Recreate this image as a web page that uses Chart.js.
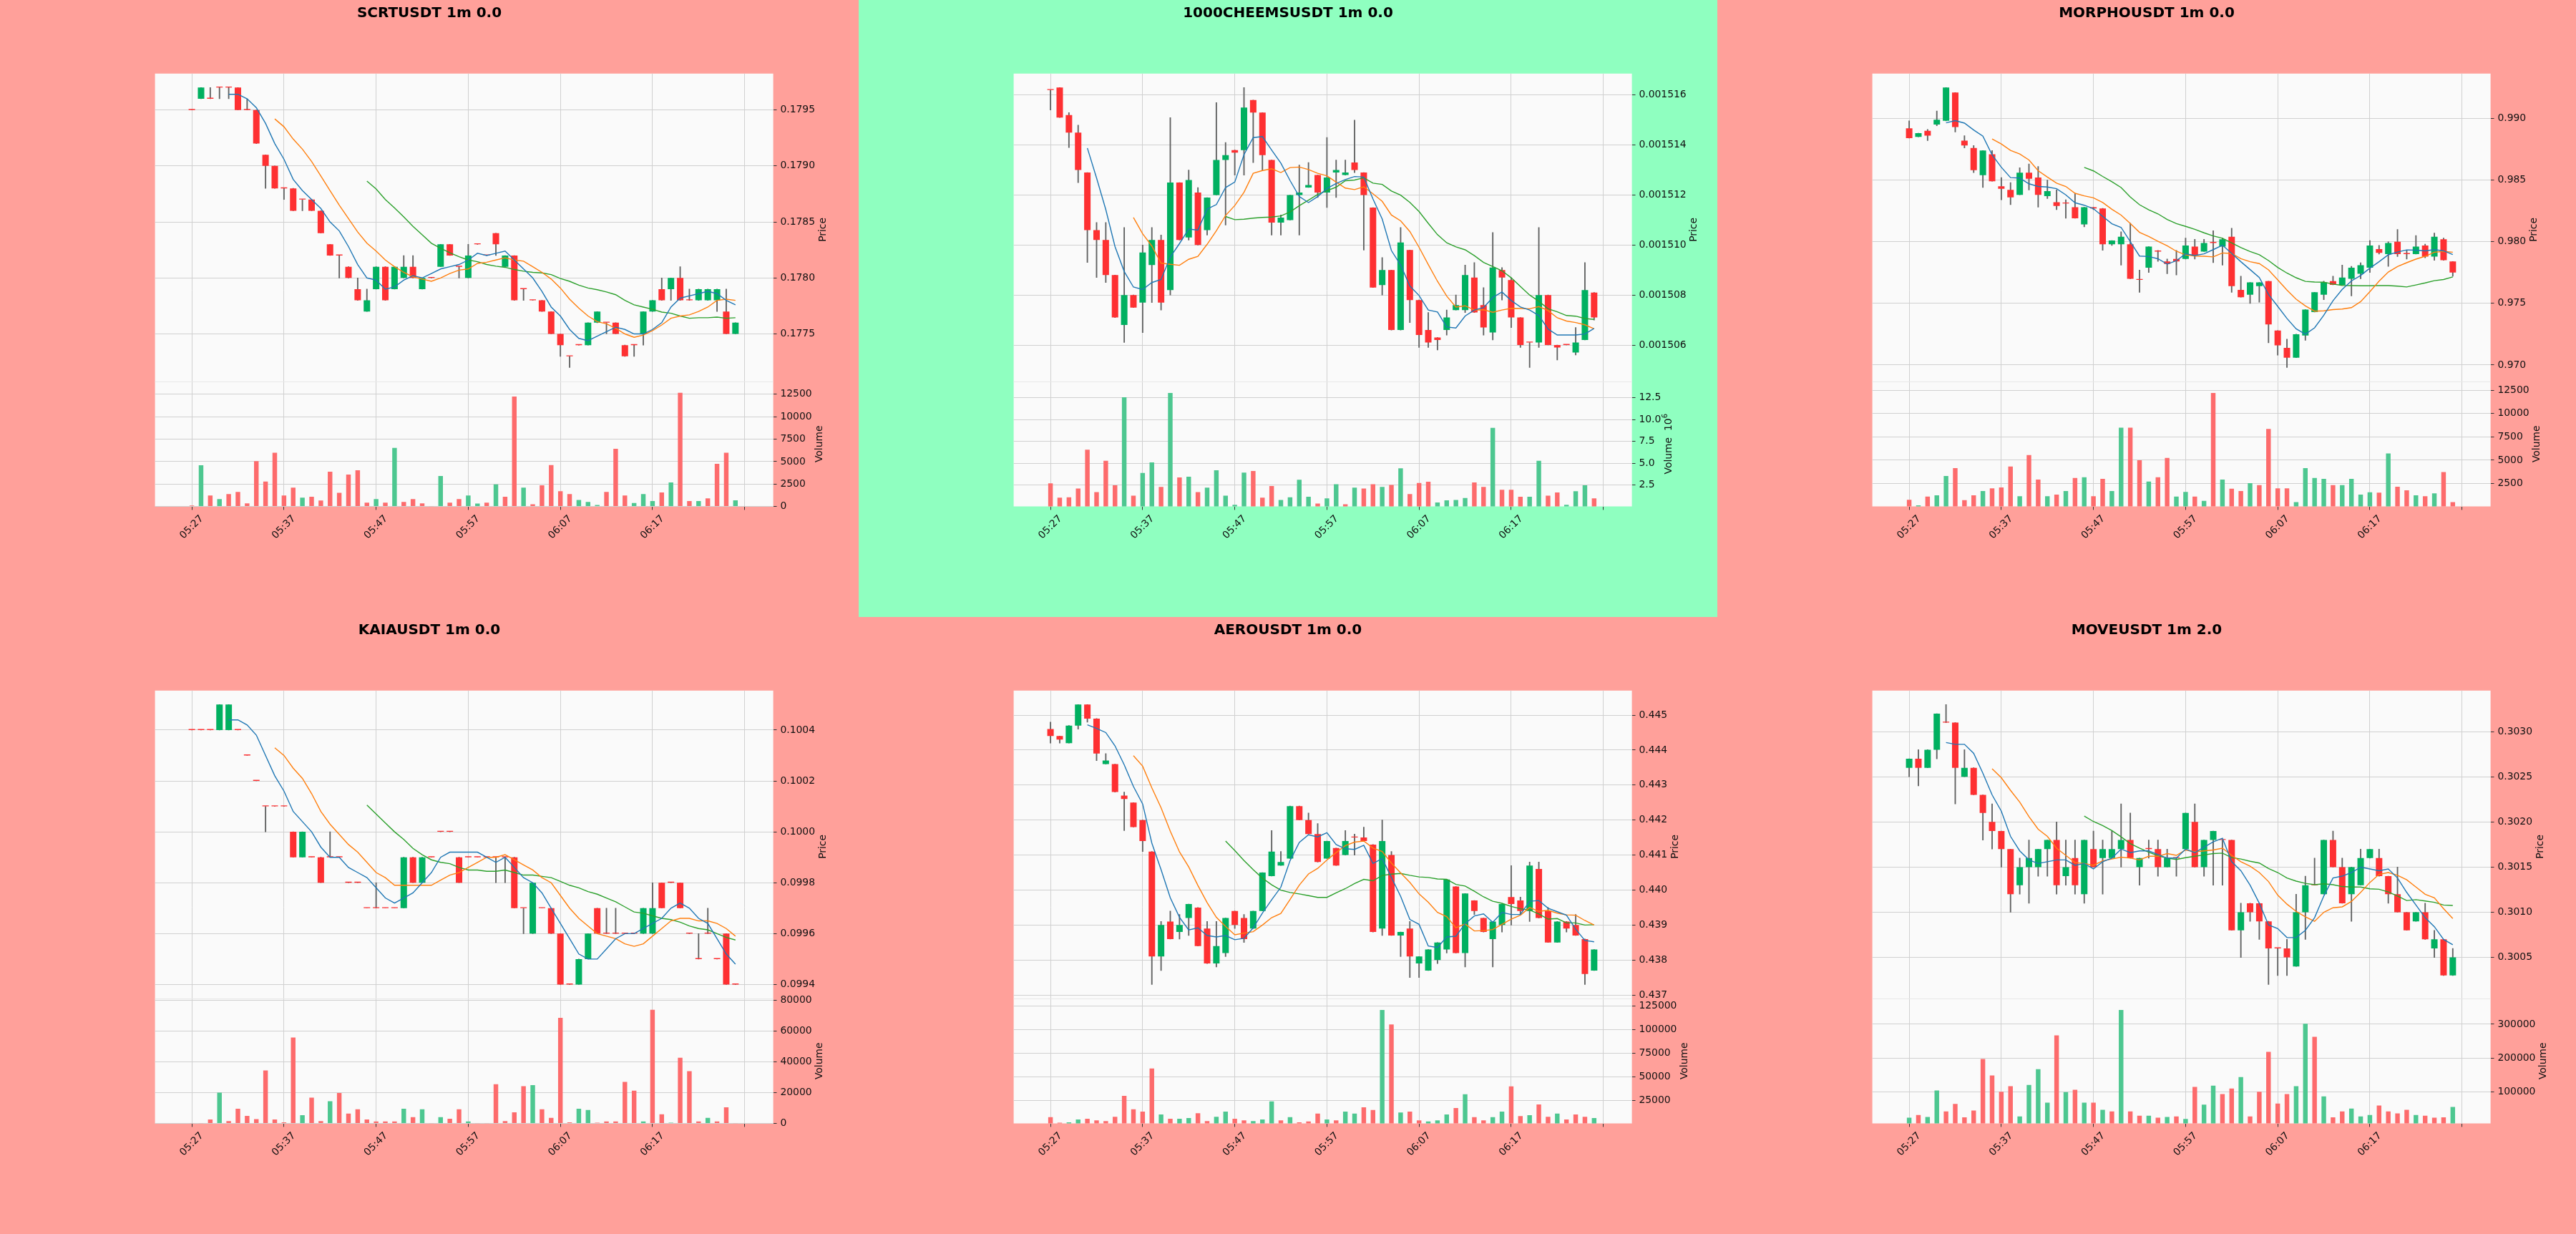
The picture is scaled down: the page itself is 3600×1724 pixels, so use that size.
<!DOCTYPE html>
<html>
<head>
<meta charset="utf-8">
<script src="https://cdn.jsdelivr.net/npm/chart.js@4.4.1/dist/chart.umd.min.js"></script>
<style>
  html, body { margin: 0; padding: 0; background: #ffa09a; }
  #wrap { position: relative; width: 3600px; height: 1724px; overflow: hidden; }
  .panel { position: absolute; width: 1200px; height: 862px; }
  .panel canvas { display: block; width: 1200px; height: 862px; }
</style>
</head>
<body>
<div id="wrap"></div>
<script>
// ---------------- shared x axis (minutes, index based) ----------------
const xTickValues = [0, 10, 20, 30, 40, 50, 60];
const xTickLabels = ['05:27', '05:37', '05:47', '05:57', '06:07', '06:17', ''];

// ---------------- SCRTUSDT ----------------
const scrtOpen  = [0.1795,0.1796,0.1796,0.1797,0.1797,0.1797,0.1795,0.1795,0.1791,0.1790,0.1788,0.1788,0.1787,0.1787,0.1786,0.1783,0.1782,0.1781,0.1779,0.1777,0.1779,0.1781,0.1779,0.1780,0.1781,0.1779,0.1780,0.1781,0.1783,0.1781,0.1780,0.1783,0.1782,0.1784,0.1781,0.1782,0.1779,0.1778,0.1778,0.1777,0.1775,0.1773,0.1774,0.1774,0.1776,0.1776,0.1776,0.1774,0.1774,0.1775,0.1777,0.1779,0.1779,0.1780,0.1778,0.1778,0.1778,0.1778,0.1777,0.1775];
const scrtHigh  = [0.1795,0.1797,0.1797,0.1797,0.1797,0.1797,0.1796,0.1795,0.1791,0.1790,0.1788,0.1788,0.1787,0.1787,0.1786,0.1783,0.1782,0.1781,0.1780,0.1779,0.1781,0.1781,0.1781,0.1782,0.1782,0.1780,0.1780,0.1783,0.1783,0.1781,0.1783,0.1783,0.1782,0.1784,0.1782,0.1782,0.1779,0.1778,0.1778,0.1777,0.1775,0.1773,0.1774,0.1776,0.1777,0.1776,0.1776,0.1774,0.1774,0.1777,0.1778,0.1780,0.1780,0.1781,0.1779,0.1779,0.1779,0.1779,0.1779,0.1776];
const scrtLow   = [0.1795,0.1796,0.1796,0.1796,0.1796,0.1795,0.1795,0.1792,0.1788,0.1788,0.1787,0.1786,0.1786,0.1786,0.1784,0.1782,0.1780,0.1780,0.1778,0.1777,0.1779,0.1778,0.1779,0.1780,0.1780,0.1779,0.1780,0.1781,0.1782,0.1780,0.1780,0.1783,0.1782,0.1782,0.1781,0.1778,0.1778,0.1778,0.1777,0.1775,0.1773,0.1772,0.1774,0.1774,0.1776,0.1775,0.1775,0.1773,0.1773,0.1774,0.1777,0.1778,0.1778,0.1778,0.1778,0.1778,0.1778,0.1777,0.1775,0.1775];
const scrtClose = [0.1795,0.1797,0.1796,0.1797,0.1797,0.1795,0.1795,0.1792,0.1790,0.1788,0.1788,0.1786,0.1787,0.1786,0.1784,0.1782,0.1782,0.1780,0.1778,0.1778,0.1781,0.1778,0.1781,0.1781,0.1780,0.1780,0.1780,0.1783,0.1782,0.1781,0.1782,0.1783,0.1782,0.1783,0.1782,0.1778,0.1779,0.1778,0.1777,0.1775,0.1774,0.1773,0.1774,0.1776,0.1777,0.1776,0.1775,0.1773,0.1774,0.1777,0.1778,0.1778,0.1780,0.1778,0.1778,0.1779,0.1779,0.1779,0.1775,0.1776];
const scrtVolume = [100,4600,1230,830,1390,1630,345,5060,2780,5990,1230,2110,990,1090,670,3880,1520,3560,4040,425,830,425,6520,505,830,345,30,3400,425,830,1230,335,425,2460,1085,12260,2100,250,2370,4620,1700,1390,730,510,160,1615,6430,1220,380,1390,600,1570,2675,12660,600,600,910,4750,6000,690];
const scrtPriceTicks = [0.1775, 0.1780, 0.1785, 0.1790, 0.1795];
const scrtVolumeTicks = [0, 2500, 5000, 7500, 10000, 12500];

// ---------------- 1000CHEEMSUSDT ----------------
const cheemsOpen  = [0.0015162,0.0015163,0.0015152,0.0015145,0.0015129,0.0015106,0.0015102,0.0015088,0.0015068,0.0015080,0.0015077,0.0015092,0.0015102,0.0015082,0.0015125,0.0015103,0.0015121,0.0015106,0.0015120,0.0015134,0.0015138,0.0015138,0.0015158,0.0015153,0.0015134,0.0015109,0.0015110,0.0015120,0.0015123,0.0015128,0.0015121,0.0015129,0.0015128,0.0015133,0.0015129,0.0015115,0.0015084,0.0015090,0.0015066,0.0015098,0.0015078,0.0015066,0.0015063,0.0015066,0.0015074,0.0015074,0.0015087,0.0015076,0.0015065,0.0015090,0.0015086,0.0015071,0.0015061,0.0015061,0.0015080,0.0015060,0.0015060,0.0015057,0.0015062,0.0015081];
const cheemsHigh  = [0.0015162,0.0015163,0.0015153,0.0015148,0.0015129,0.0015109,0.0015109,0.0015088,0.0015107,0.0015080,0.0015100,0.0015107,0.0015104,0.0015151,0.0015125,0.0015130,0.0015123,0.0015119,0.0015157,0.0015141,0.0015138,0.0015163,0.0015158,0.0015153,0.0015134,0.0015112,0.0015120,0.0015132,0.0015133,0.0015128,0.0015143,0.0015134,0.0015134,0.0015150,0.0015129,0.0015115,0.0015095,0.0015090,0.0015107,0.0015098,0.0015078,0.0015073,0.0015063,0.0015074,0.0015080,0.0015092,0.0015093,0.0015083,0.0015105,0.0015091,0.0015087,0.0015071,0.0015061,0.0015107,0.0015080,0.0015060,0.0015060,0.0015067,0.0015093,0.0015081];
const cheemsLow   = [0.0015154,0.0015151,0.0015139,0.0015125,0.0015093,0.0015087,0.0015085,0.0015071,0.0015061,0.0015075,0.0015065,0.0015077,0.0015074,0.0015080,0.0015102,0.0015102,0.0015100,0.0015104,0.0015120,0.0015108,0.0015128,0.0015128,0.0015133,0.0015130,0.0015104,0.0015104,0.0015110,0.0015104,0.0015123,0.0015119,0.0015115,0.0015119,0.0015128,0.0015129,0.0015098,0.0015083,0.0015080,0.0015066,0.0015066,0.0015069,0.0015059,0.0015059,0.0015058,0.0015064,0.0015074,0.0015073,0.0015073,0.0015064,0.0015062,0.0015078,0.0015067,0.0015059,0.0015051,0.0015059,0.0015060,0.0015054,0.0015060,0.0015056,0.0015062,0.0015070];
const cheemsClose = [0.0015162,0.0015151,0.0015145,0.0015130,0.0015106,0.0015102,0.0015088,0.0015071,0.0015080,0.0015075,0.0015097,0.0015102,0.0015077,0.0015125,0.0015102,0.0015126,0.0015100,0.0015119,0.0015134,0.0015136,0.0015137,0.0015155,0.0015153,0.0015136,0.0015109,0.0015111,0.0015120,0.0015121,0.0015124,0.0015121,0.0015127,0.0015130,0.0015129,0.0015130,0.0015120,0.0015083,0.0015090,0.0015066,0.0015101,0.0015078,0.0015064,0.0015061,0.0015062,0.0015071,0.0015076,0.0015088,0.0015073,0.0015067,0.0015091,0.0015087,0.0015071,0.0015060,0.0015061,0.0015080,0.0015060,0.0015059,0.0015060,0.0015061,0.0015082,0.0015071];
const cheemsVolume = [2710000,1090000,1130000,2130000,6560000,1720000,5290000,2490000,12530000,1310000,3890000,5110000,2310000,13030000,3390000,3480000,1720000,2220000,4210000,1310000,270000,3940000,4120000,1090000,2400000,810000,1130000,3120000,1180000,410000,1000000,2620000,320000,2220000,2130000,2620000,2310000,2530000,4430000,1490000,2760000,2900000,540000,770000,810000,1040000,2810000,2310000,9050000,1990000,1990000,1180000,1180000,5290000,1310000,1670000,270000,1810000,2490000,1000000];
const cheemsPriceTicks = [0.001506, 0.001508, 0.001510, 0.001512, 0.001514, 0.001516];
const cheemsVolumeTicks = [2500000, 5000000, 7500000, 10000000, 12500000];

// ---------------- MORPHOUSDT ----------------
const morphoOpen  = [0.9892,0.9885,0.9890,0.9895,0.9898,0.9921,0.9882,0.9876,0.9854,0.9871,0.9845,0.9842,0.9838,0.9856,0.9852,0.9837,0.9832,0.9831,0.9828,0.9814,0.9828,0.9827,0.9798,0.9798,0.9798,0.9769,0.9779,0.9792,0.9784,0.9786,0.9786,0.9796,0.9792,0.9799,0.9796,0.9804,0.9761,0.9757,0.9764,0.9768,0.9728,0.9714,0.9706,0.9724,0.9743,0.9757,0.9768,0.9765,0.9770,0.9774,0.9779,0.9794,0.9790,0.9800,0.9790,0.9790,0.9797,0.9788,0.9802,0.9784];
const morphoHigh  = [0.9898,0.9888,0.9891,0.9906,0.9925,0.9921,0.9886,0.9878,0.9874,0.9874,0.9852,0.9848,0.9860,0.9863,0.9861,0.9850,0.9842,0.9834,0.9839,0.9828,0.9828,0.9827,0.9801,0.9808,0.9815,0.9777,0.9796,0.9793,0.9786,0.9793,0.9803,0.9802,0.9802,0.9809,0.9803,0.9811,0.9772,0.9767,0.9767,0.9768,0.9728,0.9721,0.9725,0.9745,0.9759,0.9768,0.9772,0.9781,0.9780,0.9783,0.9801,0.9797,0.9800,0.9810,0.9793,0.9805,0.9798,0.9807,0.9803,0.9784];
const morphoLow   = [0.9884,0.9885,0.9882,0.9894,0.9898,0.9889,0.9876,0.9856,0.9844,0.9849,0.9834,0.9830,0.9838,0.9842,0.9828,0.9835,0.9826,0.9819,0.9819,0.9812,0.9826,0.9793,0.9797,0.9781,0.9770,0.9759,0.9775,0.9784,0.9774,0.9773,0.9786,0.9786,0.9792,0.9783,0.9781,0.9759,0.9755,0.9750,0.9751,0.9718,0.9708,0.9698,0.9706,0.9720,0.9743,0.9753,0.9765,0.9765,0.9756,0.9770,0.9775,0.9790,0.9780,0.9788,0.9786,0.9790,0.9787,0.9785,0.9785,0.9772];
const morphoClose = [0.9884,0.9888,0.9886,0.9899,0.9925,0.9893,0.9878,0.9858,0.9874,0.9849,0.9843,0.9836,0.9856,0.9851,0.9838,0.9841,0.9829,0.9831,0.9819,0.9828,0.9827,0.9798,0.9801,0.9804,0.9770,0.9769,0.9796,0.9792,0.9782,0.9784,0.9797,0.9789,0.9799,0.9799,0.9802,0.9764,0.9755,0.9767,0.9767,0.9733,0.9716,0.9706,0.9725,0.9745,0.9759,0.9767,0.9765,0.9771,0.9779,0.9781,0.9797,0.9791,0.9799,0.9790,0.9790,0.9796,0.9788,0.9804,0.9785,0.9775];
const morphoVolume = [760,170,1100,1230,3300,4150,720,1230,1700,1990,2080,4320,1140,5550,2920,1140,1310,1700,3090,3180,1140,3010,1700,8470,8470,5000,2710,3180,5250,1100,1610,1100,640,12200,2920,1950,1700,2540,2330,8350,1990,1990,510,4150,3090,3010,2330,2330,3010,1310,1570,1530,5720,2160,1780,1230,1140,1440,3730,510];
const morphoPriceTicks = [0.970, 0.975, 0.980, 0.985, 0.990];
const morphoVolumeTicks = [2500, 5000, 7500, 10000, 12500];

// ---------------- KAIAUSDT ----------------
const kaiaOpen  = [0.1004,0.1004,0.1004,0.1004,0.1004,0.1004,0.1003,0.1002,0.1001,0.1001,0.1001,0.1000,0.0999,0.0999,0.0999,0.0999,0.0999,0.0998,0.0998,0.0997,0.0997,0.0997,0.0997,0.0997,0.0999,0.0998,0.0999,0.1000,0.1000,0.0999,0.0999,0.0999,0.0999,0.0999,0.0999,0.0999,0.0997,0.0996,0.0997,0.0997,0.0996,0.0994,0.0994,0.0995,0.0997,0.0996,0.0996,0.0996,0.0996,0.0996,0.0996,0.0998,0.0998,0.0998,0.0996,0.0995,0.0996,0.0995,0.0996,0.0994];
const kaiaHigh  = [0.1004,0.1004,0.1004,0.1005,0.1005,0.1004,0.1003,0.1002,0.1001,0.1001,0.1001,0.1000,0.1000,0.0999,0.0999,0.1000,0.0999,0.0998,0.0998,0.0997,0.0998,0.0997,0.0997,0.0999,0.0999,0.0999,0.0999,0.1000,0.1000,0.0999,0.0999,0.0999,0.0999,0.0999,0.0999,0.0999,0.0997,0.0998,0.0997,0.0997,0.0996,0.0994,0.0995,0.0996,0.0997,0.0997,0.0997,0.0996,0.0996,0.0997,0.0998,0.0998,0.0998,0.0998,0.0996,0.0996,0.0997,0.0995,0.0996,0.0994];
const kaiaLow   = [0.1004,0.1004,0.1004,0.1004,0.1004,0.1004,0.1003,0.1002,0.1000,0.1001,0.1001,0.0999,0.0999,0.0999,0.0998,0.0999,0.0999,0.0998,0.0998,0.0997,0.0997,0.0997,0.0997,0.0997,0.0998,0.0998,0.0999,0.1000,0.1000,0.0998,0.0999,0.0999,0.0999,0.0998,0.0998,0.0997,0.0996,0.0996,0.0997,0.0996,0.0994,0.0994,0.0994,0.0995,0.0996,0.0996,0.0996,0.0996,0.0996,0.0996,0.0996,0.0997,0.0998,0.0997,0.0996,0.0995,0.0996,0.0995,0.0994,0.0994];
const kaiaClose = [0.1004,0.1004,0.1004,0.1005,0.1005,0.1004,0.1003,0.1002,0.1001,0.1001,0.1001,0.0999,0.1000,0.0999,0.0998,0.0999,0.0999,0.0998,0.0998,0.0997,0.0997,0.0997,0.0997,0.0999,0.0998,0.0999,0.0999,0.1000,0.1000,0.0998,0.0999,0.0999,0.0999,0.0999,0.0999,0.0997,0.0997,0.0998,0.0997,0.0996,0.0994,0.0994,0.0995,0.0996,0.0996,0.0996,0.0996,0.0996,0.0996,0.0997,0.0997,0.0997,0.0998,0.0997,0.0996,0.0995,0.0996,0.0995,0.0994,0.0994];
const kaiaVolume = [100,100,2560,20000,1540,9490,4870,2820,34360,2560,770,55640,5380,16670,1540,14360,19740,6410,9230,2560,1280,1280,1280,9490,4100,9230,100,4100,3080,9230,1280,100,100,25380,1540,7180,24100,24870,9230,3590,68460,770,9490,8720,510,1280,1280,26920,21280,1280,73590,5900,510,42560,33850,1280,3590,1280,10510,100];
const kaiaPriceTicks = [0.0994, 0.0996, 0.0998, 0.1000, 0.1002, 0.1004];
const kaiaVolumeTicks = [0, 20000, 40000, 60000, 80000];

// ---------------- AEROUSDT ----------------
const aeroOpen  = [0.4446,0.4444,0.4442,0.4447,0.4453,0.4449,0.4436,0.4436,0.4427,0.4425,0.4420,0.4411,0.4381,0.4391,0.4388,0.4392,0.4395,0.4389,0.4379,0.4382,0.4394,0.4392,0.4389,0.4394,0.4404,0.4407,0.4409,0.4424,0.4420,0.4416,0.4409,0.4412,0.4410,0.4415,0.4415,0.4413,0.4389,0.4410,0.4387,0.4389,0.4379,0.4377,0.4380,0.4383,0.4401,0.4382,0.4397,0.4392,0.4386,0.4390,0.4398,0.4397,0.4394,0.4406,0.4394,0.4385,0.4391,0.4390,0.4386,0.4377];
const aeroHigh  = [0.4448,0.4444,0.4447,0.4453,0.4453,0.4449,0.4439,0.4436,0.4428,0.4425,0.4420,0.4411,0.4391,0.4394,0.4393,0.4396,0.4395,0.4391,0.4391,0.4392,0.4394,0.4393,0.4394,0.4405,0.4417,0.4411,0.4424,0.4424,0.4422,0.4419,0.4414,0.4412,0.4417,0.4416,0.4418,0.4413,0.4420,0.4411,0.4388,0.4391,0.4381,0.4383,0.4385,0.4403,0.4401,0.4399,0.4397,0.4392,0.4391,0.4396,0.4407,0.4398,0.4408,0.4408,0.4395,0.4391,0.4391,0.4393,0.4386,0.4383];
const aeroLow   = [0.4442,0.4442,0.4442,0.4446,0.4448,0.4437,0.4436,0.4428,0.4417,0.4418,0.4411,0.4373,0.4377,0.4386,0.4386,0.4387,0.4384,0.4379,0.4378,0.4381,0.4389,0.4385,0.4389,0.4394,0.4404,0.4407,0.4409,0.4420,0.4416,0.4408,0.4409,0.4407,0.4410,0.4410,0.4414,0.4388,0.4387,0.4387,0.4381,0.4375,0.4375,0.4377,0.4379,0.4382,0.4382,0.4378,0.4393,0.4388,0.4378,0.4388,0.4390,0.4393,0.4391,0.4392,0.4385,0.4385,0.4388,0.4387,0.4373,0.4377];
const aeroClose = [0.4444,0.4443,0.4447,0.4453,0.4449,0.4439,0.4437,0.4428,0.4426,0.4418,0.4414,0.4381,0.4390,0.4386,0.4390,0.4396,0.4384,0.4379,0.4384,0.4392,0.4390,0.4386,0.4394,0.4405,0.4411,0.4408,0.4424,0.4420,0.4416,0.4408,0.4414,0.4407,0.4414,0.4415,0.4414,0.4388,0.4414,0.4387,0.4388,0.4381,0.4381,0.4383,0.4385,0.4403,0.4382,0.4399,0.4394,0.4388,0.4391,0.4396,0.4396,0.4394,0.4407,0.4392,0.4385,0.4391,0.4389,0.4387,0.4376,0.4383];
const aeroVolume = [6930,1050,1470,4410,5250,3570,2730,7350,29620,15340,12820,58610,9870,5250,5250,6090,11130,2730,7350,12820,5250,3570,2730,4410,23740,3570,6930,1470,2310,10710,4410,3570,12820,10710,17440,14500,120800,105250,11970,12820,3570,2310,3570,9870,16600,31300,6930,3570,6930,12820,39710,8190,9030,20380,7350,10710,4410,9870,7350,6090];
const aeroPriceTicks = [0.437, 0.438, 0.439, 0.440, 0.441, 0.442, 0.443, 0.444, 0.445];
const aeroVolumeTicks = [25000, 50000, 75000, 100000, 125000];

// ---------------- MOVEUSDT ----------------
const moveOpen  = [0.3026,0.3027,0.3026,0.3028,0.3031,0.3031,0.3025,0.3026,0.3023,0.3020,0.3019,0.3017,0.3013,0.3015,0.3015,0.3017,0.3018,0.3014,0.3016,0.3012,0.3017,0.3016,0.3016,0.3017,0.3018,0.3015,0.3017,0.3017,0.3015,0.3016,0.3017,0.3020,0.3015,0.3018,0.3018,0.3018,0.3008,0.3011,0.3011,0.3009,0.3006,0.3006,0.3004,0.3010,0.3013,0.3012,0.3018,0.3015,0.3012,0.3013,0.3016,0.3016,0.3014,0.3012,0.3010,0.3009,0.3010,0.3006,0.3007,0.3003];
const moveHigh  = [0.3027,0.3028,0.3028,0.3032,0.3033,0.3031,0.3028,0.3026,0.3023,0.3022,0.3019,0.3017,0.3016,0.3018,0.3017,0.3018,0.3020,0.3018,0.3018,0.3018,0.3019,0.3018,0.3019,0.3022,0.3021,0.3016,0.3018,0.3018,0.3017,0.3016,0.3021,0.3022,0.3018,0.3019,0.3018,0.3018,0.3011,0.3011,0.3011,0.3009,0.3006,0.3007,0.3012,0.3014,0.3016,0.3018,0.3019,0.3016,0.3015,0.3017,0.3017,0.3017,0.3014,0.3015,0.3010,0.3010,0.3011,0.3008,0.3007,0.3006];
const moveLow   = [0.3025,0.3024,0.3026,0.3027,0.3031,0.3022,0.3025,0.3023,0.3018,0.3017,0.3015,0.3010,0.3012,0.3011,0.3014,0.3014,0.3012,0.3013,0.3012,0.3011,0.3015,0.3012,0.3016,0.3015,0.3016,0.3013,0.3016,0.3014,0.3015,0.3014,0.3017,0.3015,0.3014,0.3013,0.3013,0.3008,0.3005,0.3009,0.3007,0.3002,0.3003,0.3003,0.3004,0.3007,0.3013,0.3012,0.3015,0.3011,0.3009,0.3013,0.3016,0.3014,0.3011,0.3010,0.3008,0.3009,0.3007,0.3005,0.3003,0.3003];
const moveClose = [0.3027,0.3026,0.3028,0.3032,0.3031,0.3026,0.3026,0.3023,0.3021,0.3019,0.3017,0.3012,0.3015,0.3016,0.3017,0.3018,0.3013,0.3015,0.3013,0.3018,0.3015,0.3017,0.3017,0.3018,0.3016,0.3016,0.3017,0.3015,0.3016,0.3016,0.3021,0.3015,0.3018,0.3019,0.3018,0.3008,0.3010,0.3010,0.3009,0.3006,0.3006,0.3005,0.3010,0.3013,0.3013,0.3018,0.3015,0.3011,0.3015,0.3016,0.3017,0.3014,0.3012,0.3010,0.3008,0.3010,0.3007,0.3007,0.3003,0.3005];
const moveVolume = [22800,31000,25100,103500,41500,63700,24000,43900,197000,148000,100000,116400,26300,119900,166700,67300,267200,98800,105800,67300,67300,46200,41500,342100,41500,28700,28700,22800,25100,26300,19300,114000,61400,117600,93000,109400,143300,26300,100000,218100,64900,93000,116400,301200,262600,85700,24000,41500,49700,26300,31000,58800,41500,35700,46200,31000,28700,22800,24000,54400];
const movePriceTicks = [0.3005, 0.3010, 0.3015, 0.3020, 0.3025, 0.3030];
const moveVolumeTicks = [100000, 200000, 300000];

// ---------------- style / layout constants ----------------
const PANEL_W = 1200, PANEL_H = 862;
const PLOT_LEFT = 216.6, PLOT_RIGHT = 1080.6, PLOT_TOP = 102.8, PANE_SPLIT = 533, PLOT_BOTTOM = 707.5;
const SALMON = '#ffa09a', MINT = '#8fffc0';
const UP = '#00b060', DOWN = '#fe3032', WICK = '#606161';
const VUP = '#4dc790', VDOWN = '#fd6b6c';
const GRID = '#d0d0d0', TICK = '#303030', TEXT = '#101010', FACE = '#fafafa';
const FONT = '"DejaVu Sans", "Liberation Sans", sans-serif';
const FS = 13.9, TICK_LEN = 4.9, TICK_PAD = 4.9;
Chart.defaults.font.family = FONT;

const intFmt = v => String(Math.round(v));
const panels = [
  { title: 'SCRTUSDT 1m 0.0', bg: SALMON, open: scrtOpen, high: scrtHigh, low: scrtLow, close: scrtClose, volume: scrtVolume,
    priceTicks: scrtPriceTicks, priceDec: 4, volTicks: scrtVolumeTicks, volFmt: intFmt, volExp: '' },
  { title: '1000CHEEMSUSDT 1m 0.0', bg: MINT, open: cheemsOpen, high: cheemsHigh, low: cheemsLow, close: cheemsClose, volume: cheemsVolume,
    priceTicks: cheemsPriceTicks, priceDec: 6, volTicks: cheemsVolumeTicks, volFmt: v => (v / 1e6).toFixed(1), volExp: '6' },
  { title: 'MORPHOUSDT 1m 0.0', bg: SALMON, open: morphoOpen, high: morphoHigh, low: morphoLow, close: morphoClose, volume: morphoVolume,
    priceTicks: morphoPriceTicks, priceDec: 3, volTicks: morphoVolumeTicks, volFmt: intFmt, volExp: '' },
  { title: 'KAIAUSDT 1m 0.0', bg: SALMON, open: kaiaOpen, high: kaiaHigh, low: kaiaLow, close: kaiaClose, volume: kaiaVolume,
    priceTicks: kaiaPriceTicks, priceDec: 4, volTicks: kaiaVolumeTicks, volFmt: intFmt, volExp: '' },
  { title: 'AEROUSDT 1m 0.0', bg: SALMON, open: aeroOpen, high: aeroHigh, low: aeroLow, close: aeroClose, volume: aeroVolume,
    priceTicks: aeroPriceTicks, priceDec: 3, volTicks: aeroVolumeTicks, volFmt: intFmt, volExp: '' },
  { title: 'MOVEUSDT 1m 2.0', bg: SALMON, open: moveOpen, high: moveHigh, low: moveLow, close: moveClose, volume: moveVolume,
    priceTicks: movePriceTicks, priceDec: 4, volTicks: moveVolumeTicks, volFmt: intFmt, volExp: '' }
];

// simple moving average of the close prices (the 5/10/20 overlays of the reference)
function movingAverage(values, w) {
  const out = [];
  for (let i = w - 1; i < values.length; i++) {
    let s = 0;
    for (let k = i - w + 1; k <= i; k++) s += values[k];
    out.push({ x: i, y: s / w });
  }
  return out;
}

const decorPlugin = {
  id: 'decor',
  beforeDraw(chart) {
    const { ctx, chartArea: a } = chart;
    ctx.save();
    ctx.fillStyle = FACE;
    ctx.fillRect(a.left, a.top, a.right - a.left, a.bottom - a.top);
    ctx.restore();
  },
  beforeDatasetsDraw(chart) {
    const { ctx, chartArea: a, scales } = chart;
    const ys = Math.round(scales.y.bottom) + 0.5;
    ctx.save();
    ctx.strokeStyle = '#e8e8e8';
    ctx.lineWidth = 1;
    ctx.beginPath(); ctx.moveTo(a.left, ys); ctx.lineTo(a.right, ys); ctx.stroke();
    ctx.restore();
  },
  afterDraw(chart, args, opts) {
    const { ctx, chartArea: a, scales } = chart;
    ctx.save();
    // title
    ctx.fillStyle = '#000000';
    ctx.font = 'bold 20px ' + FONT;
    ctx.textAlign = 'center';
    ctx.textBaseline = 'alphabetic';
    ctx.fillText(opts.title, PANEL_W / 2, 23.5);
    // x tick labels, rotated 45 degrees and centred under their tick
    ctx.font = FS + 'px ' + FONT;
    ctx.fillStyle = TEXT;
    xTickValues.forEach((v, k) => {
      const lbl = xTickLabels[k];
      if (!lbl) return;
      const x = scales.x.getPixelForValue(v);
      ctx.save();
      ctx.translate(x, a.bottom + 29);
      ctx.rotate(-Math.PI / 4);
      ctx.textAlign = 'center';
      ctx.textBaseline = 'middle';
      ctx.fillText(lbl, 0, 0);
      ctx.restore();
    });
    // y axis titles (reading bottom to top)
    const labelX = (scale) => {
      let w = 0;
      scale.ticks.forEach(t => { w = Math.max(w, ctx.measureText(String(t.label)).width); });
      return a.right + TICK_LEN + TICK_PAD + w + 11;
    };
    const drawVertical = (x, y, main, sup) => {
      ctx.save();
      ctx.translate(x, y);
      ctx.rotate(-Math.PI / 2);
      ctx.textBaseline = 'middle';
      ctx.font = FS + 'px ' + FONT;
      const wMain = ctx.measureText(main).width;
      ctx.font = '10px ' + FONT;
      const wSup = sup ? ctx.measureText(sup).width : 0;
      const start = -(wMain + wSup) / 2;
      ctx.font = FS + 'px ' + FONT;
      ctx.textAlign = 'left';
      ctx.fillText(main, start, 0);
      if (sup) {
        ctx.font = '10px ' + FONT;
        ctx.fillText(sup, start + wMain, -5);
      }
      ctx.restore();
    };
    ctx.font = FS + 'px ' + FONT;
    const px = labelX(scales.y);
    const vx = labelX(scales.yv);
    drawVertical(px, (scales.y.top + scales.y.bottom) / 2 + 3, 'Price', '');
    drawVertical(vx, (scales.yv.top + scales.yv.bottom) / 2, opts.volExp ? 'Volume  10' : 'Volume', opts.volExp);
    ctx.restore();
  }
};

function buildPanel(p, col, row) {
  const holder = document.createElement('div');
  holder.className = 'panel';
  holder.style.left = (col * PANEL_W) + 'px';
  holder.style.top = (row * PANEL_H) + 'px';
  holder.style.background = p.bg;
  const canvas = document.createElement('canvas');
  canvas.width = PANEL_W;
  canvas.height = PANEL_H;
  holder.appendChild(canvas);
  document.getElementById('wrap').appendChild(holder);

  const n = p.close.length;
  const idx = Array.from({ length: n }, (_, i) => i);
  const lo = Math.min(...p.low), hi = Math.max(...p.high);
  const pad = (hi - lo) * 0.05;
  const vMin = Math.min(...p.volume), vMax = Math.max(...p.volume);
  const bodyColors = idx.map(i => p.close[i] > p.open[i] ? UP : DOWN);
  const volColors = idx.map(i => (i === 0 ? p.close[i] > p.open[i] : p.close[i] > p.close[i - 1]) ? VUP : VDOWN);

  const line = (w, color) => ({
    type: 'line', data: movingAverage(p.close, w), yAxisID: 'y',
    borderColor: color, borderWidth: 1.4, pointRadius: 0, tension: 0, fill: false, order: 0
  });

  new Chart(canvas, {
    type: 'bar',
    data: {
      datasets: [
        line(5, '#1f77b4'),
        line(10, '#ff7f0e'),
        line(20, '#2ca02c'),
        { label: 'body', data: idx.map(i => ({ x: i, y: [p.open[i], p.close[i]] })), yAxisID: 'y',
          backgroundColor: bodyColors, grouped: false, categoryPercentage: 1, barPercentage: 0.7,
          minBarLength: 1.4, borderWidth: 0, order: 1 },
        { label: 'wick', data: idx.map(i => ({ x: i, y: [p.low[i], p.high[i]] })), yAxisID: 'y',
          backgroundColor: WICK, grouped: false, barThickness: 1.2, borderWidth: 0, order: 2 },
        { label: 'volume', data: idx.map(i => ({ x: i, y: p.volume[i] })), yAxisID: 'yv',
          backgroundColor: volColors, grouped: false, categoryPercentage: 1, barPercentage: 0.5,
          borderWidth: 0, order: 3 }
      ]
    },
    options: {
      responsive: false, animation: false, devicePixelRatio: 1, events: [],
      layout: { padding: { left: PLOT_LEFT, top: PLOT_TOP, right: 0, bottom: 0 } },
      plugins: { legend: { display: false }, tooltip: { enabled: false }, title: { display: false },
        decor: { title: p.title, volExp: p.volExp } },
      scales: {
        x: {
          type: 'linear', min: -4, max: 63.1, offset: false,
          grid: { offset: false, color: GRID, lineWidth: 1, drawTicks: true, tickLength: TICK_LEN, tickColor: TICK, tickWidth: 1 },
          border: { display: false },
          ticks: { display: false },
          afterBuildTicks: s => { s.ticks = xTickValues.map(v => ({ value: v })); },
          afterFit: s => { s.height = PANEL_H - PLOT_BOTTOM; }
        },
        y: {
          type: 'linear', position: 'right', stack: 'panes', stackWeight: PANE_SPLIT - PLOT_TOP,
          min: lo - pad, max: hi + pad,
          grid: { color: GRID, lineWidth: 1, tickLength: TICK_LEN, tickColor: TICK, tickWidth: 1 },
          border: { display: false },
          ticks: { color: TEXT, font: { size: FS, family: FONT }, padding: TICK_PAD, autoSkip: false,
            callback: v => Number(v).toFixed(p.priceDec) },
          afterBuildTicks: s => { s.ticks = p.priceTicks.map(v => ({ value: v })); },
          afterFit: s => { s.width = PANEL_W - PLOT_RIGHT; }
        },
        yv: {
          type: 'linear', position: 'right', stack: 'panes', stackWeight: PLOT_BOTTOM - PANE_SPLIT,
          min: vMin * 0.3, max: vMax * 1.1,
          grid: { color: GRID, lineWidth: 1, tickLength: TICK_LEN, tickColor: TICK, tickWidth: 1 },
          border: { display: false },
          ticks: { color: TEXT, font: { size: FS, family: FONT }, padding: TICK_PAD, autoSkip: false,
            callback: v => p.volFmt(v) },
          afterBuildTicks: s => { s.ticks = p.volTicks.map(v => ({ value: v })); },
          afterFit: s => { s.width = PANEL_W - PLOT_RIGHT; }
        }
      }
    },
    plugins: [decorPlugin]
  });
}

panels.forEach((p, k) => buildPanel(p, k % 3, Math.floor(k / 3)));
</script>
</body>
</html>
